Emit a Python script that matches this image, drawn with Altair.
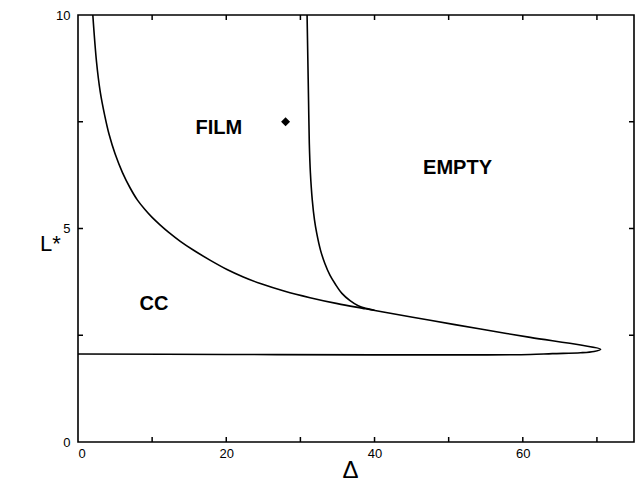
import altair as alt
import pandas as pd

# boundary CC / FILM (upper branch, tip, lower branch)
c1_x = [2.0, 2.5, 3.0, 3.6, 4.2, 5.0, 6.0, 7.0, 8.0, 9.0, 10.0, 11.1, 12.2, 13.8, 15.6,
        17.8, 20.1, 22.3, 24.6, 27.9, 31.3, 35.0, 38.8, 40.8, 47.5, 54.3, 61.0, 67.8, 70.5,
        69.6, 67.8, 64.0, 61.0, 54.3, 40.0, 20.0, 0.0]
c1_y = [10.0, 8.9, 8.2, 7.65, 7.2, 6.75, 6.31, 5.96, 5.67, 5.45, 5.26, 5.08, 4.915, 4.70, 4.49,
        4.26, 4.04, 3.865, 3.71, 3.53, 3.38, 3.24, 3.12, 3.055, 2.85, 2.645, 2.45, 2.27, 2.17,
        2.12, 2.09, 2.07, 2.05, 2.04, 2.04, 2.05, 2.06]

# boundary FILM / EMPTY
c2_x = [30.9, 31.0, 31.1, 31.2, 31.35, 31.6, 31.9, 32.2, 32.7, 33.3, 34.0, 34.7, 35.6,
        36.7, 37.8, 38.8, 40.0]
c2_y = [10.0, 9.0, 8.0, 7.0, 6.3, 5.67, 5.2, 4.89, 4.5, 4.18, 3.9, 3.70, 3.48,
        3.31, 3.19, 3.13, 3.085]

marker_x = [28.0]
marker_y = [7.5]

label_text = ["FILM", "EMPTY", "CC"]
label_x = [19.0, 51.2, 10.25]
label_y = [7.35, 6.41, 3.23]

x_label_values = [0, 20, 40, 60]
x_tick_values = [10, 20, 30, 40, 50, 60, 70]
y_label_values = [0, 5, 10]
y_tick_values = [2.5, 5, 7.5]

X_MIN, X_MAX = 0, 75
Y_MIN, Y_MAX = 0, 10

W, H = 556, 427
FONT = "Liberation Sans"
TICK_PX = 5
tx = TICK_PX * (X_MAX - X_MIN) / W   # tick length in x data units
ty = TICK_PX * (Y_MAX - Y_MIN) / H   # tick length in y data units

c1 = pd.DataFrame({"x": c1_x, "y": c1_y, "i": list(range(len(c1_x)))})
c2 = pd.DataFrame({"x": c2_x, "y": c2_y, "i": list(range(len(c2_x)))})
mk = pd.DataFrame({"x": marker_x, "y": marker_y})
lb = pd.DataFrame({"x": label_x, "y": label_y, "t": label_text})

# inward tick marks on all four sides
n = len(x_tick_values)
xt = pd.DataFrame({
    "tx": x_tick_values + x_tick_values,
    "ty": [Y_MIN] * n + [Y_MAX] * n,
    "ty2": [Y_MIN + ty] * n + [Y_MAX - ty] * n,
})
m = len(y_tick_values)
yt = pd.DataFrame({
    "ty": y_tick_values + y_tick_values,
    "tx": [X_MIN] * m + [X_MAX] * m,
    "tx2": [X_MIN + tx] * m + [X_MAX - tx] * m,
})

xs = alt.Scale(domain=[X_MIN, X_MAX], nice=False, zero=False)
ys = alt.Scale(domain=[Y_MIN, Y_MAX], nice=False, zero=False)

ax_x = alt.Axis(orient="bottom", values=x_label_values, ticks=False, tickSize=0, domain=False,
                grid=False, labelPadding=5, labelFont=FONT, labelFontSize=13, labelColor="black",
                title="Δ", titleFont=FONT, titleFontSize=24, titleFontWeight="normal",
                titleColor="black", titleX=272, titleY=28, titleAlign="center",
                titleBaseline="middle", titleAngle=0)
ax_y = alt.Axis(orient="left", values=y_label_values, ticks=False, tickSize=0, domain=False,
                grid=False, labelPadding=8, labelFont=FONT, labelFontSize=13, labelColor="black",
                title="L*", titleFont=FONT, titleFontSize=22, titleFontWeight="normal",
                titleColor="black", titleX=-28, titleY=228, titleAlign="center",
                titleBaseline="middle", titleAngle=0)

line1 = alt.Chart(c1).mark_line(color="black", strokeWidth=1.6, interpolate="catmull-rom").encode(
    x=alt.X("x:Q", scale=xs, axis=ax_x),
    y=alt.Y("y:Q", scale=ys, axis=ax_y),
    order=alt.Order("i:Q"),
)
line2 = alt.Chart(c2).mark_line(color="black", strokeWidth=1.6, interpolate="catmull-rom").encode(
    x=alt.X("x:Q"),
    y=alt.Y("y:Q"),
    order=alt.Order("i:Q"),
)
point = alt.Chart(mk).mark_point(shape="diamond", filled=True, color="black", size=80, opacity=1).encode(
    x=alt.X("x:Q"),
    y=alt.Y("y:Q"),
)
texts = alt.Chart(lb).mark_text(font=FONT, fontSize=20, fontWeight="bold", color="black",
                                align="center", baseline="middle").encode(
    x=alt.X("x:Q"),
    y=alt.Y("y:Q"),
    text="t:N",
)
xticks = alt.Chart(xt).mark_rule(color="black", strokeWidth=1.5).encode(
    x=alt.X("tx:Q"),
    y=alt.Y("ty:Q"),
    y2=alt.Y2("ty2:Q"),
)
yticks = alt.Chart(yt).mark_rule(color="black", strokeWidth=1.5).encode(
    x=alt.X("tx:Q"),
    x2=alt.X2("tx2:Q"),
    y=alt.Y("ty:Q"),
)

chart = alt.layer(line1, line2, point, texts, xticks, yticks).properties(
    width=W, height=H,
    autosize=alt.AutoSizeParams(type="none"),
    padding={"left": 78, "top": 15, "right": 3, "bottom": 39},
    background="white",
).configure_view(stroke="black", strokeWidth=1.6)

chart.save("out.html", embed_options={"renderer": "svg", "actions": False})
